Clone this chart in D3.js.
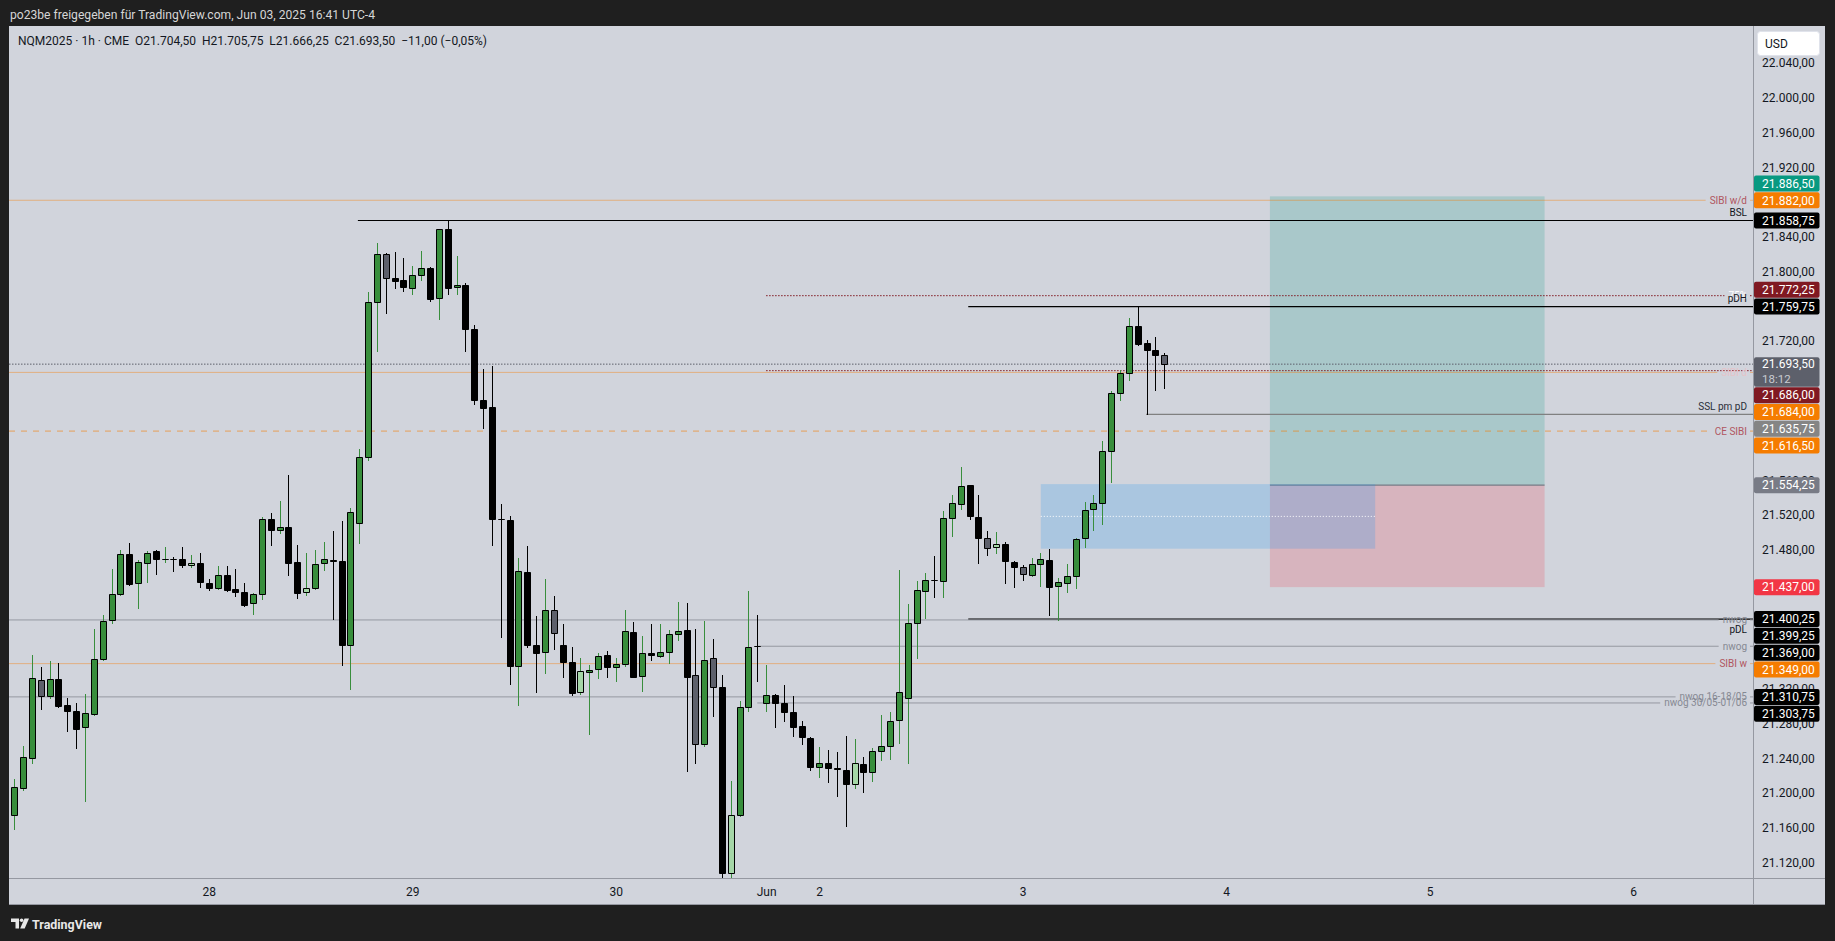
<!DOCTYPE html>
<html><head><meta charset="utf-8">
<script src="https://cdn.jsdelivr.net/npm/d3@7"></script>
<style>
html,body{margin:0;padding:0;background:#1f1f1f;}
svg{display:block;font-family:Roboto,"Noto Sans",sans-serif;}
</style></head><body>
<svg id="c" width="1835" height="941"></svg>
<script>
// ---------- DATA ----------
const opens  = [21174.5,21206.5,21241,21330,21311.5,21331,21301.5,21294.5,21275.75,21290.75,21354,21398.75,21428.75,21474.75,21441.25,21464.5,21478.5,21469,21469.5,21469,21462,21464.75,21441.5,21436.25,21451.5,21435,21431,21418.5,21428.75,21515,21502.5,21505.75,21465.5,21431,21435.5,21464.25,21468,21467.25,21370.75,21511,21587,21765.25,21820.25,21792.75,21790.25,21780.75,21795.75,21803.75,21769.25,21848.5,21781.75,21784.25,21734.5,21652.75,21643.75,21515.75,21514,21346,21454.25,21371,21362,21410.25,21370,21350.5,21316,21339,21342.5,21358.5,21344.75,21348.25,21385,21334.25,21361,21357.5,21362,21382.75,21387.25,21335.5,21256.25,21355,21321.75,21107.75,21174.5,21298.75,21369.25,21303.75,21312.5,21303.5,21293,21276.75,21263,21229.75,21234.25,21228.5,21226.25,21210.25,21233.25,21224,21248,21254,21283.75,21309,21395.5,21432.25,21445,21443.75,21516.25,21532.25,21554.25,21517.25,21493.25,21482.75,21486.25,21465.5,21459.75,21450.5,21463.25,21467.75,21438,21441.5,21449.5,21493.25,21526.5,21533.5,21593.25,21660,21683,21737,21717.5,21709.5,21704.5];
const highs  = [21216.25,21254.25,21359,21344.75,21352,21349.75,21309,21303.75,21314,21388.75,21405,21457.75,21479.75,21487.75,21468.25,21478.5,21479.5,21483,21471.25,21483.25,21474,21476.25,21446.25,21461.25,21461.25,21457.75,21441.75,21430.5,21517.5,21522.25,21536,21566,21485.5,21476.25,21479.75,21489,21501.5,21513,21528,21596,21776.5,21833,21821.5,21822.5,21815.5,21806.5,21823.75,21805,21849.5,21858.75,21818,21786.75,21738.25,21688,21691.5,21532.5,21518.5,21470.5,21484.25,21403.75,21446.25,21426.75,21394.5,21368,21355.5,21347,21361.25,21363.25,21355,21410.25,21396.5,21380.5,21394.25,21394.75,21388,21420,21418.75,21388.5,21398,21377.25,21335.5,21214,21306,21432.5,21405,21347.5,21313.75,21324,21311.5,21282.5,21264.25,21252.75,21249.25,21247,21265.5,21262,21241.25,21251.5,21290,21293,21456.25,21417.25,21443.75,21453,21472.5,21524.25,21542.5,21574.75,21554.75,21542.5,21501.25,21500.75,21488.5,21466.75,21462,21470,21476,21480.5,21447,21463.25,21493.25,21534.5,21542.5,21604.75,21662.25,21686.5,21746.25,21759.75,21721,21724.5,21705.75];
const lows   = [21158.75,21203.5,21235,21297,21309,21299.5,21271.75,21252.25,21191.25,21289.5,21352.75,21395.5,21427.5,21439.75,21413.25,21443.25,21452.5,21466.25,21456,21459.75,21460.5,21437.5,21434,21435.25,21433,21427,21415.5,21406.5,21423.75,21485.75,21499.5,21451.25,21424.75,21428.25,21434.75,21456.25,21400.75,21347.75,21319.75,21488,21583.25,21709,21752.75,21781.5,21778,21774.5,21790.5,21766.5,21745.75,21774.5,21773.75,21709,21648,21620.5,21485,21380,21325.25,21301,21368,21316.75,21338,21366.25,21334,21313.25,21314.5,21267.75,21332.75,21334,21329.25,21346.5,21333.25,21317.75,21352.75,21356.25,21349.5,21375.75,21225.75,21234.25,21254,21288.5,21103.25,21103.5,21174.25,21294.75,21329.25,21294.75,21276.5,21283.25,21266,21256.25,21226.25,21218.25,21212.5,21197,21162.5,21205.5,21201,21213.5,21237.75,21239,21257.25,21234.25,21355,21401,21425.25,21426,21495.5,21527.25,21515,21465,21473.5,21476,21441.5,21436.75,21444.75,21450.25,21438,21404.5,21398.75,21431,21435.5,21483.5,21502.5,21509.25,21557.5,21652,21675,21715.25,21635.75,21664,21666.25];
const closes = [21206.75,21241.25,21332,21311.5,21331,21300.5,21294.75,21274,21291.75,21354,21397.75,21428.75,21474.75,21441,21465.5,21476,21469,21469.5,21469,21462,21464.75,21443.25,21436.25,21450.5,21434,21431.75,21416.75,21428.75,21515,21502.5,21505.75,21465,21430.5,21435.5,21463.25,21469,21467.5,21370.75,21523,21586.75,21764.5,21820.25,21793,21789.5,21782,21795.75,21803.75,21768.75,21848.5,21781.5,21784.25,21734.25,21652.5,21643.5,21515.75,21515.5,21346.5,21455.25,21370.75,21361,21410.25,21384,21351.25,21315.5,21340.25,21341.25,21357.5,21344.75,21348.25,21386.25,21334,21361,21358.5,21362,21382.75,21386.25,21333.25,21256.25,21352.75,21321.75,21107.75,21174.5,21298.75,21367.75,21369,21312.5,21303.5,21293,21275.75,21264.25,21229.75,21234.25,21228.5,21228,21210.25,21234.25,21224,21248,21254,21282.5,21316,21395.5,21433.25,21444.75,21444.75,21516.25,21533.5,21553,21518.5,21493.25,21481.75,21486.25,21466.75,21459.75,21451.75,21463.25,21469,21436.75,21442.5,21449.5,21492,21525.5,21533.5,21593.25,21660,21683,21737,21716.25,21709.5,21704.5,21693.5];

const priceTicks = [22040,22000,21960,21920,21880,21840,21800,21760,21720,21680,21640,21600,21560,21520,21480,21440,21400,21360,21320,21280,21240,21200,21160,21120];
const dayTickBars   = [22,45,68,85,91,114,137,160,183];
const dayTickLabels = ["28","29","30","Jun","2","3","4","5","6"];

// horizontal drawings (price, first bar or null = whole chart, kind, text, text placement)
const levelPrices    = [21882,21858.75,21772.25,21759.75,21693.5,21686,21684,21635.75,21616.5,21400.25,21399.25,21369,21349,21310.75,21303.75];
const levelStartBars = [null,38.85,85,107.85,null,85,null,127.95,null,107.85,null,84,null,null,84];
const levelKinds     = ["sibi","liq","fib","liq","last","fib","sibi","ssl","ce","liq","nwog","nwog","sibi","nwog","nwog"];
const levelTexts     = ["SIBI w/d","BSL","75%","pDH","","","SIBI d","SSL pm pD","CE SIBI","pDL","nwog","nwog","SIBI w","nwog 16-18/05","nwog 30/05-01/06"];
const levelTextPlace = ["mid","above","mid","above","","","mid","above","mid","below","mid","mid","mid","mid","mid"];

// FVG box and long position (bars / prices)
const fvgBars   = [116.05,153.85];
const fvgPrices = [21555.5,21481.25];
const posBars   = [141.95,173];
const posEntry = 21554.25, posTarget = 21886.5, posStop = 21437;

// right axis labels
const axisLabelPrices = [21886.5,21882,21858.75,21772.25,21759.75,21686,21684,21635.75,21616.5,21554.25,21437,21400.25,21399.25,21369,21349,21310.75,21303.75];
const axisLabelKinds  = ["target","orange","black","red","black","red","orange","gray","orange","entry","stop","black","black","black","orange","black","black"];
const countdown = "18:12";

const headerText = "po23be freigegeben für TradingView.com, Jun 03, 2025 16:41 UTC-4";
const legendText = "NQM2025 · 1h · CME  O21.704,50  H21.705,75  L21.666,25  C21.693,50  −11,00 (−0,05%)";

// ---------- LAYOUT ----------
const W=1835,H=941;
const panel = {x:9,y:26,r:1825,b:905};
const plot = {x:9,y:26,r:1753,b:878};
const BG = "#d1d4dc";
const svg = d3.select("#c");
const xScale = d3.scaleLinear().domain([0,130]).range([14.2,1164.2]);
const yScale = d3.scaleLinear().domain([21120,22000]).range([862.7,97.7]);
const fmt = d3.formatLocale({decimal:",",thousands:".",grouping:[3],currency:["",""]}).format(",.2f");

svg.append("rect").attr("width",W).attr("height",H).attr("fill","#1f1f1f");
svg.append("rect").attr("x",panel.x).attr("y",panel.y).attr("width",panel.r-panel.x).attr("height",panel.b-panel.y).attr("fill",BG);

svg.append("text").attr("x",10).attr("y",19).attr("fill","#d6d6d6").attr("font-size",12.5)
  .attr("textLength",365).attr("lengthAdjust","spacingAndGlyphs").text(headerText);

const defs = svg.append("defs");
defs.append("clipPath").attr("id","plotClip").append("rect")
  .attr("x",plot.x).attr("y",plot.y).attr("width",plot.r-plot.x).attr("height",plot.b-plot.y);

const pg = svg.append("g").attr("clip-path","url(#plotClip)");

// position tool
const px0 = xScale(posBars[0]), px1 = xScale(posBars[1]);
pg.append("rect").attr("x",px0).attr("width",px1-px0)
  .attr("y",yScale(posTarget)).attr("height",yScale(posEntry)-yScale(posTarget))
  .attr("fill","rgba(8,153,129,0.2)");
pg.append("rect").attr("x",px0).attr("width",px1-px0)
  .attr("y",yScale(posEntry)).attr("height",yScale(posStop)-yScale(posEntry))
  .attr("fill","rgba(242,54,69,0.2)");
pg.append("line").attr("x1",px0).attr("x2",px1).attr("y1",yScale(posEntry)).attr("y2",yScale(posEntry))
  .attr("stroke","#787b86").attr("stroke-width",1.2);

// FVG box
const fx0 = xScale(fvgBars[0]), fx1 = xScale(fvgBars[1]);
pg.append("rect").attr("x",fx0).attr("width",fx1-fx0)
  .attr("y",yScale(fvgPrices[0])).attr("height",yScale(fvgPrices[1])-yScale(fvgPrices[0]))
  .attr("fill","rgba(33,150,243,0.22)");
const fmid = yScale((fvgPrices[0]+fvgPrices[1])/2);
pg.append("line").attr("x1",fx0).attr("x2",fx1).attr("y1",fmid).attr("y2",fmid)
  .attr("stroke","#ffffff").attr("stroke-width",1).attr("stroke-dasharray","1,2");

// horizontal levels
const kindStyle = {
  sibi:{stroke:"rgba(245,124,0,0.42)",w:1,dash:null,text:"#b0565f"},
  ce:{stroke:"rgba(245,124,0,0.6)",w:1,dash:"6,6",text:"#b0565f"},
  liq:{stroke:"#000000",w:1.2,dash:null,text:"#131722"},
  fib:{stroke:"#801922",w:1,dash:"1.5,1.5",text:"#ffffff"},
  last:{stroke:"#5d606b",w:1,dash:"1.5,1.5",text:"#fff"},
  ssl:{stroke:"#808080",w:1.2,dash:null,text:"#2a2e39"},
  nwog:{stroke:"#9598a1",w:1,dash:null,text:"#868993"}
};
const lg = svg.append("g").attr("clip-path","url(#plotClip)");
const tg = svg.append("g");
levelPrices.forEach((p,i)=>{
  const st = kindStyle[levelKinds[i]];
  const y = yScale(p);
  const x0 = levelStartBars[i]===null ? plot.x : xScale(levelStartBars[i]);
  const txt = levelTexts[i], place = levelTextPlace[i];
  let segs = [[x0,plot.r]];
  if(txt){
    let ty = place==="mid" ? y+3.5 : place==="above" ? y-4.5 : y+13.5;
    let fill = st.text;
    if(txt==="SIBI d") fill="#e6c3c9";
    const t = tg.append("text").attr("x",1747).attr("y",ty).attr("text-anchor","end")
      .attr("font-size",10).attr("fill",fill).text(txt);
    if(place==="mid"){
      const len = t.node().getComputedTextLength();
      segs = [[x0,1747-len-4],[1750,plot.r]];
    }
  }
  segs.forEach(s=>{
    if(s[1]<=s[0]) return;
    const ln = lg.append("line").attr("x1",s[0]).attr("x2",s[1]).attr("y1",y).attr("y2",y)
      .attr("stroke",st.stroke).attr("stroke-width",st.w);
    if(st.dash) ln.attr("stroke-dasharray",st.dash);
  });
});

// candles
const cg = svg.append("g").attr("clip-path","url(#plotClip)");
const idx = d3.range(opens.length);
const isUp = i => closes[i]>=opens[i];
const isInside = i => i>0 && highs[i]<highs[i-1] && lows[i]>lows[i-1];
const bodyFill = i => isInside(i) ? (isUp(i)?"#a5d6a7":"#5d606b") : (isUp(i)?"#388e3c":"#000000");
cg.selectAll("line.wick").data(idx).join("line").attr("class","wick")
  .attr("x1",i=>Math.round(xScale(i))+0.5).attr("x2",i=>Math.round(xScale(i))+0.5)
  .attr("y1",i=>Math.round(yScale(highs[i]))).attr("y2",i=>Math.round(yScale(lows[i]))+1)
  .attr("stroke",i=>isUp(i)?"#388e3c":"#000").attr("stroke-width",1);
cg.selectAll("path.body").data(idx).join("path").attr("class","body")
  .attr("d",i=>{
    const cx = Math.round(xScale(i));
    const top = Math.round(yScale(Math.max(opens[i],closes[i])))+0.5;
    const bot = Math.round(yScale(Math.min(opens[i],closes[i])))+0.5;
    return `M${cx-2.5},${top}h6v${bot-top}h-6Z`;
  })
  .attr("fill",bodyFill).attr("stroke","#000").attr("stroke-width",1);
tg.raise();

// axes frame
svg.append("line").attr("x1",plot.r+0.5).attr("x2",plot.r+0.5).attr("y1",panel.y).attr("y2",panel.b)
  .attr("stroke","#9598a1").attr("stroke-width",1);
svg.append("line").attr("x1",panel.x).attr("x2",panel.r).attr("y1",plot.b+0.5).attr("y2",plot.b+0.5)
  .attr("stroke","#9598a1").attr("stroke-width",1);
svg.append("line").attr("x1",panel.x).attr("x2",panel.r).attr("y1",panel.b-0.5).attr("y2",panel.b-0.5)
  .attr("stroke","#9598a1").attr("stroke-width",1);

// price axis
const ya = svg.append("g").attr("transform",`translate(${plot.r},0)`)
  .call(d3.axisRight(yScale).tickValues(priceTicks).tickSize(0).tickPadding(9).tickFormat(fmt));
ya.select(".domain").remove();
ya.selectAll("text").attr("font-size",12).attr("fill","#131722").attr("font-family","Roboto");

// time axis
const xa = svg.append("g").attr("transform",`translate(0,${plot.b})`)
  .call(d3.axisBottom(xScale).tickValues(dayTickBars).tickSize(0).tickPadding(9.5).tickFormat((d,i)=>dayTickLabels[i]));
xa.select(".domain").remove();
xa.selectAll("text").attr("font-size",12).attr("fill","#131722").attr("font-family","Roboto");

// axis labels with collision avoidance
const labelColor = {target:"#089981",orange:"#f57c00",black:"#000000",red:"#801922",gray:"#858585",entry:"#787b86",stop:"#f23645"};
const lastPrice = closes[closes.length-1];
const curY = yScale(lastPrice);
const curTop = curY-6.8, curBot = curY+22.6;
const step = 8.4;
const items = axisLabelPrices.map((p,i)=>({p,k:axisLabelKinds[i],y0:yScale(p)}));
const above = items.filter(d=>d.y0<curY).sort((a,b)=>b.y0-a.y0);
const below = items.filter(d=>d.y0>=curY).sort((a,b)=>a.y0-b.y0);
let lim = curTop;
above.forEach(d=>{ d.y = Math.min(d.y0, lim-step); lim = d.y-step; });
lim = curBot;
below.forEach(d=>{ d.y = Math.max(d.y0, lim+step); lim = d.y+step; });
const alg = svg.append("g");
above.concat(below).forEach(d=>{
  alg.append("rect").attr("x",1754).attr("y",d.y-8).attr("width",65.5).attr("height",16).attr("rx",2)
    .attr("fill",labelColor[d.k]);
  alg.append("text").attr("x",1762).attr("y",d.y+4.3).attr("font-size",12).attr("fill","#fff").text(fmt(d.p));
});
alg.append("rect").attr("x",1754).attr("y",curTop).attr("width",65.5).attr("height",curBot-curTop).attr("rx",2).attr("fill","#5d606b");
alg.append("text").attr("x",1762).attr("y",curY+4.3).attr("font-size",12).attr("fill","#fff").text(fmt(lastPrice));
alg.append("text").attr("x",1762).attr("y",curY+18.5).attr("font-size",11.5).attr("fill","#c9cbd1").text(countdown);

// USD box
svg.append("rect").attr("x",1757.5).attr("y",31.5).attr("width",62).attr("height",24).attr("rx",3)
  .attr("fill","#ffffff").attr("stroke","#e0e3eb");
svg.append("text").attr("x",1765).attr("y",48).attr("font-size",12).attr("fill","#131722").text("USD");

// legend
svg.append("text").attr("x",18).attr("y",45.3).attr("font-size",12).attr("fill","#131722")
  .attr("textLength",469).attr("lengthAdjust","spacingAndGlyphs").style("white-space","pre").text(legendText);

// footer logo
const fg = svg.append("g").attr("fill","#e8e8e8");
fg.append("path").attr("d","M11,918.5h8v10h-3.5v-6.5h-4.5z");
fg.append("circle").attr("cx",21.6).attr("cy",920.3).attr("r",1.8);
fg.append("path").attr("d","M24.5,918.5h4.5l-4.3,10h-4.5z");
svg.append("text").attr("x",32).attr("y",928.5).attr("font-size",13).attr("font-weight",700)
  .attr("fill","#e8e8e8").attr("textLength",70).attr("lengthAdjust","spacingAndGlyphs").text("TradingView");
</script>
</body></html>
